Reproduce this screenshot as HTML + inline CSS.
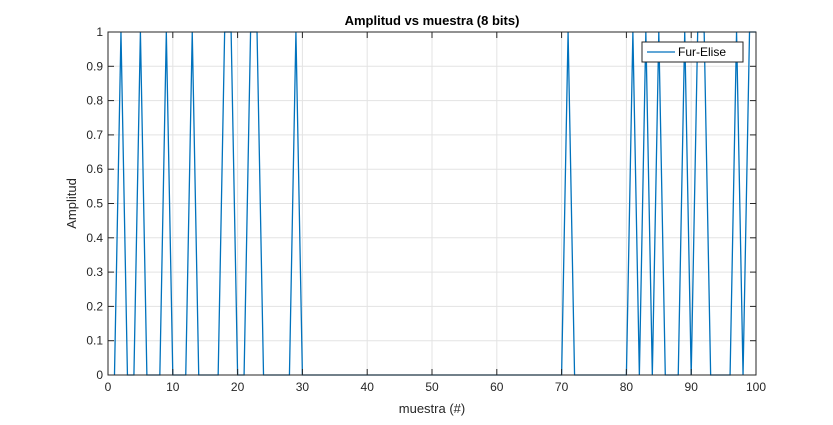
<!DOCTYPE html>
<html><head><meta charset="utf-8"><style>
body{margin:0;background:#fff;font-family:"Liberation Sans",sans-serif}
svg text{font-family:"Liberation Sans",sans-serif}
</style></head><body>
<svg id="c" width="833" height="420" xmlns="http://www.w3.org/2000/svg">
<rect width="833" height="420" fill="#fff"/>
</svg>
<script>
const xs = [];
for (let i = 1; i <= 100; i++) xs.push(i);
const ones = [2,5,9,13,18,19,22,23,29,71,81,83,85,89,91,92,97,99,100];
const amps = xs.map(v => ones.includes(v) ? 1 : 0);
const xTicks = [0,10,20,30,40,50,60,70,80,90,100];
const yTicks = [0,0.1,0.2,0.3,0.4,0.5,0.6,0.7,0.8,0.9,1];
const yTickLabels = ['0','0.1','0.2','0.3','0.4','0.5','0.6','0.7','0.8','0.9','1'];

const L=108,R=756,T=32,B=375;
const sx=v=>L+(v-0)/(100-0)*(R-L);
const sy=v=>B-(v-0)/(1-0)*(B-T);
const svg=document.getElementById('c');
const NS='http://www.w3.org/2000/svg';
function mk(tag,attrs,parent){const e=document.createElementNS(NS,tag);for(const k in attrs)e.setAttribute(k,attrs[k]);(parent||svg).appendChild(e);return e;}

const grid=mk('g',{});


xTicks.forEach(t=>{mk('line',{x1:sx(t),x2:sx(t),y1:T,y2:B,stroke:'#e3e3e3','stroke-width':1},grid);});
yTicks.forEach(t=>{mk('line',{x1:L,x2:R,y1:sy(t),y2:sy(t),stroke:'#e3e3e3','stroke-width':1},grid);});

const pts=xs.map((x,i)=>sx(x)+','+sy(amps[i])).join(' ');
const line=mk('polyline',{points:pts,fill:'none',stroke:'#0072bd','stroke-width':1.3});



const ax=mk('g',{});


mk('rect',{x:L,y:T,width:R-L,height:B-T,fill:'none',stroke:'#262626','stroke-width':1},ax);
xTicks.forEach(t=>{
  mk('line',{x1:sx(t),x2:sx(t),y1:B,y2:B-6,stroke:'#262626'},ax);
  mk('line',{x1:sx(t),x2:sx(t),y1:T,y2:T+6,stroke:'#262626'},ax);
  const tx=mk('text',{x:sx(t),y:B+16,'text-anchor':'middle','font-size':12,fill:'#262626'},ax);
  tx.textContent=t;
  
  
});
yTicks.forEach((t,i)=>{
  mk('line',{x1:L,x2:L+6,y1:sy(t),y2:sy(t),stroke:'#262626'},ax);
  mk('line',{x1:R,x2:R-6,y1:sy(t),y2:sy(t),stroke:'#262626'},ax);
  const tx=mk('text',{x:L-5,y:sy(t)+4,'text-anchor':'end','font-size':12,fill:'#262626'},ax);
  tx.textContent=yTickLabels[i];
  
  
});

const title=mk('text',{x:(L+R)/2,y:25,'text-anchor':'middle','font-size':13,'font-weight':'bold',fill:'#000'});
title.textContent='Amplitud vs muestra (8 bits)';


const xl=mk('text',{x:(L+R)/2,y:413,'text-anchor':'middle','font-size':13,fill:'#262626'});
xl.textContent='muestra (#)';


const yl=mk('text',{x:0,y:0,'text-anchor':'middle','font-size':13,fill:'#262626',transform:'translate(76,'+((T+B)/2)+') rotate(-90)'});
yl.textContent='Amplitud';



const lg=mk('g',{});


mk('rect',{x:642,y:42,width:101,height:20,fill:'#fff',stroke:'#262626','stroke-width':1},lg);
mk('line',{x1:647,x2:675,y1:52,y2:52,stroke:'#0072bd','stroke-width':1.3},lg);
const lt=mk('text',{x:678,y:56,'font-size':12,fill:'#000'},lg);
lt.textContent='Fur-Elise';


</script>
</body></html>
